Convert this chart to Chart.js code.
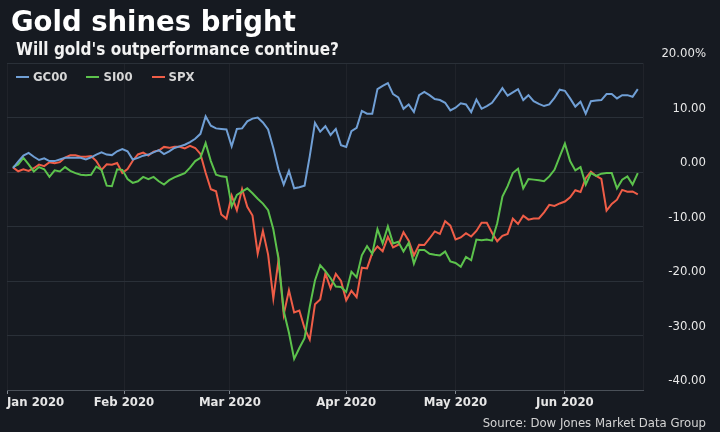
<!DOCTYPE html>
<html>
<head>
<meta charset="utf-8">
<title>Gold shines bright</title>
<script src="https://cdn.jsdelivr.net/npm/chart.js@4.4.1/dist/chart.umd.min.js"></script>
<style>
  html, body { margin: 0; padding: 0; background: #161a21; }
  #chart-box { position: relative; width: 720px; height: 432px; overflow: hidden; background: #161a21; }
  #my-chart { position: absolute; left: 0; top: 0; }
  .headline { position: absolute; left: 11px; top: 5px; margin: 0; line-height: 1;
    font: bold 27.5px 'DejaVu Sans', sans-serif; color: #ffffff; white-space: nowrap; }
  .subhead { position: absolute; left: 16px; top: 39px; margin: 0; line-height: 1;
    font: bold 17px 'DejaVu Sans Condensed', 'DejaVu Sans', sans-serif; color: #f2f2f2; white-space: nowrap; }
  .source { position: absolute; right: 14px; top: 415px; margin: 0; line-height: 1;
    font: 13px 'DejaVu Sans Condensed', 'DejaVu Sans', sans-serif; color: #d4d4d4; white-space: nowrap; }
  #legend { position: absolute; left: 16px; top: 69px; margin: 0; padding: 0; list-style: none;
    display: flex; font: bold 13px 'DejaVu Sans Condensed', 'DejaVu Sans', sans-serif; color: #d6d6d6; line-height: 15px; }
  #legend li { display: flex; align-items: center; margin-right: 19px; }
  #legend .swatch { display: inline-block; width: 13px; height: 2px; margin-right: 4px; }
</style>
</head>
<body>
<div id="chart-box">
  <canvas id="my-chart" width="720" height="432"></canvas>
  <h1 class="headline">Gold shines bright</h1>
  <h2 class="subhead">Will gold's outperformance continue?</h2>
  <ul id="legend"></ul>
  <p class="source">Source: Dow Jones Market Data Group</p>
</div>
<script>
'use strict';

// CATEGORIES - TRADING DAYS (futures also trade on Jan 20, Feb 17, May 25)
let tradingDays = [
  '2020-01-02','2020-01-03','2020-01-06','2020-01-07','2020-01-08','2020-01-09','2020-01-10','2020-01-13','2020-01-14','2020-01-15',
  '2020-01-16','2020-01-17','2020-01-20','2020-01-21','2020-01-22','2020-01-23','2020-01-24','2020-01-27','2020-01-28','2020-01-29','2020-01-30','2020-01-31',
  '2020-02-03','2020-02-04','2020-02-05','2020-02-06','2020-02-07','2020-02-10','2020-02-11','2020-02-12','2020-02-13','2020-02-14',
  '2020-02-17','2020-02-18','2020-02-19','2020-02-20','2020-02-21','2020-02-24','2020-02-25','2020-02-26','2020-02-27','2020-02-28',
  '2020-03-02','2020-03-03','2020-03-04','2020-03-05','2020-03-06','2020-03-09','2020-03-10','2020-03-11','2020-03-12','2020-03-13',
  '2020-03-16','2020-03-17','2020-03-18','2020-03-19','2020-03-20','2020-03-23','2020-03-24','2020-03-25','2020-03-26','2020-03-27','2020-03-30','2020-03-31',
  '2020-04-01','2020-04-02','2020-04-03','2020-04-06','2020-04-07','2020-04-08','2020-04-09','2020-04-13','2020-04-14','2020-04-15',
  '2020-04-16','2020-04-17','2020-04-20','2020-04-21','2020-04-22','2020-04-23','2020-04-24','2020-04-27','2020-04-28','2020-04-29','2020-04-30',
  '2020-05-01','2020-05-04','2020-05-05','2020-05-06','2020-05-07','2020-05-08','2020-05-11','2020-05-12','2020-05-13','2020-05-14',
  '2020-05-15','2020-05-18','2020-05-19','2020-05-20','2020-05-21','2020-05-22','2020-05-25','2020-05-26','2020-05-27','2020-05-28','2020-05-29',
  '2020-06-01','2020-06-02','2020-06-03','2020-06-04','2020-06-05','2020-06-08','2020-06-09','2020-06-10','2020-06-11','2020-06-12',
  '2020-06-15','2020-06-16','2020-06-17','2020-06-18','2020-06-19'
];

// TICK LABELS
let monthLabels = ['Jan 2020', 'Feb 2020', 'Mar 2020', 'Apr 2020', 'May 2020', 'Jun 2020'];
let yTickValues = [-40, -30, -20, -10, 0, 10, 20];
let yTickLabels = ['-40.00', '-30.00', '-20.00', '-10.00', '0.00', '10.00', '20.00%'];

// SERIES - % CHANGE SINCE START OF YEAR
let gc00 = [
  0.7, 1.9, 3.0, 3.5, 2.8, 2.2, 2.5, 2.0, 2.0, 2.3, 2.6, 2.6, 2.6, 2.6, 2.3, 2.7, 3.2, 3.6, 3.2, 3.1, 3.8, 4.2,
  3.8, 2.3, 2.6, 3.0, 3.2, 3.6, 4.0, 3.3, 3.8, 4.4, 4.7, 5.0, 5.5, 6.1, 7.0, 10.2, 8.5, 8.0, 7.9, 7.8,
  4.7, 7.9, 8.0, 9.3, 9.8, 10.0, 9.1, 7.8, 4.4, 0.4, -2.3, 0.2, -3.0, -2.8, -2.5, 2.9, 9.0, 7.4, 8.4, 6.8, 7.9, 4.9,
  4.6, 7.5, 8.1, 11.2, 10.7, 10.7, 15.2, 15.8, 16.3, 14.3, 13.7, 11.6, 12.4, 11.0, 14.1, 14.7, 14.1, 13.4, 13.2, 12.7, 11.3,
  11.8, 12.6, 12.4, 11.0, 13.3, 11.6, 12.1, 12.7, 14.0, 15.4, 14.0, 14.6, 15.2, 13.2, 14.1, 13.0, 12.5, 12.1, 12.4, 13.6, 15.1,
  14.9, 13.5, 12.0, 12.9, 10.7, 13.0, 13.1, 13.2, 14.3, 14.3, 13.5, 14.1, 14.1, 13.8, 15.2
];
let si00 = [
  0.9, 1.4, 2.6, 1.4, 0.1, 0.9, 0.5, -0.9, 0.3, 0.1, 0.9, 0.2, -0.2, -0.5, -0.6, -0.5, 1.0, 0.4, -2.5, -2.6, 0.5, 0.4,
  -1.3, -2.0, -1.7, -0.9, -1.3, -0.9, -1.7, -2.3, -1.5, -1.0, -0.6, -0.2, 0.8, 2.0, 2.6, 5.3, 2.0, -0.5, -0.8, -0.9,
  -6.3, -4.2, -3.6, -3.0, -3.9, -4.9, -5.8, -7.0, -10.5, -16.0, -25.5, -29.5, -34.3, -32.3, -30.5, -24.7, -19.9, -17.1, -18.2, -19.5, -21.0, -21.1,
  -22.0, -18.3, -19.3, -15.3, -13.6, -15.0, -10.5, -13.1, -10.0, -13.1, -12.8, -14.6, -13.0, -16.8, -14.3, -14.3, -15.0, -15.2, -15.3, -14.6, -16.4,
  -16.7, -17.4, -15.6, -16.2, -12.4, -12.5, -12.4, -12.6, -9.4, -4.5, -2.6, -0.2, 0.6, -3.0, -1.3, -1.4, -1.5, -1.7, -0.8, 0.4, 2.8,
  5.2, 2.0, 0.3, 0.9, -2.3, -0.2, -0.7, -0.3, -0.2, -0.2, -3.0, -1.4, -0.8, -2.3, -0.2
];
let spx = [
  0.84, 0.13, 0.48, 0.20, 0.69, 1.36, 1.07, 1.78, 1.62, 1.81, 2.66, 3.06, 3.06, 2.79, 2.82, 2.93, 2.00, 0.40, 1.41, 1.32, 1.64, -0.16,
  0.56, 2.07, 3.22, 3.56, 3.00, 3.75, 3.93, 4.60, 4.43, 4.62, 4.62, 4.32, 4.81, 4.41, 3.31, -0.15, -3.17, -3.54, -7.80, -8.56,
  -4.35, -7.04, -3.12, -6.40, -8.00, -14.99, -10.79, -15.15, -23.22, -16.09, -26.14, -21.72, -25.77, -25.42, -28.66, -30.75, -24.25, -23.38, -18.59, -21.34, -18.70, -20.00,
  -23.53, -21.79, -22.97, -17.55, -17.69, -14.88, -13.65, -14.52, -11.91, -13.85, -13.35, -11.03, -12.62, -15.30, -13.35, -13.40, -12.20, -10.90, -11.37, -9.02, -9.85,
  -12.38, -12.01, -11.22, -11.84, -10.82, -9.32, -9.30, -11.16, -12.71, -11.71, -11.36, -8.57, -9.53, -8.02, -8.74, -8.52, -8.52, -7.40, -6.02, -6.22, -5.77,
  -5.42, -4.64, -3.34, -3.67, -1.14, 0.05, -0.73, -1.26, -7.08, -5.86, -5.08, -3.28, -3.63, -3.57, -4.12
];

// DOM WINDOWS
let ctx = document.getElementById('my-chart');
let legendList = document.getElementById('legend');

// HELPER FUNCTIONS-UTILITIES
const X_MIN = -1.15;
const X_MAX = tradingDays.length;
const condensed = "'DejaVu Sans Condensed', 'DejaVu Sans', sans-serif";

// month ticks: first trading day of each month, pulled back over the weekend days
let monthTicks = [];
for (let i = 0; i < tradingDays.length; i++) {
  if (i === 0 || tradingDays[i].slice(5, 7) !== tradingDays[i - 1].slice(5, 7)) {
    let day = Number(tradingDays[i].slice(8, 10));
    monthTicks.push(i === 0 ? X_MIN : i - (day - 1) / 3);
  }
}

function toPoints(series) {
  return series.map((v, i) => ({ x: i, y: v }));
}

function lineDataset(label, series, color) {
  return {
    label: label,
    data: toPoints(series),
    borderColor: color,
    backgroundColor: color,
    borderWidth: 2,
    pointRadius: 0,
    pointHoverRadius: 0,
    tension: 0
  };
}

// legend built from the chart's own datasets
function renderLegend(chart) {
  chart.data.datasets.forEach(ds => {
    let item = document.createElement('li');
    let swatch = document.createElement('span');
    swatch.className = 'swatch';
    swatch.style.background = ds.borderColor;
    item.appendChild(swatch);
    item.appendChild(document.createTextNode(ds.label));
    legendList.appendChild(item);
  });
}

// HELPER FUNCTION TO RENDER CHART
function renderChart() {
  let chartObj = {
    type: 'line',
    data: {
      datasets: [
        lineDataset('GC00', gc00, '#709fd5'),
        lineDataset('SI00', si00, '#5cc24c'),
        lineDataset('SPX', spx, '#ef5d47')
      ]
    },
    options: {
      responsive: false,
      animation: false,
      events: [],
      layout: {
        padding: { left: 7, right: 14, top: 63, bottom: 22 }
      },
      plugins: {
        tooltip: { enabled: false },
        legend: { display: false }
      },
      scales: {
        x: {
          type: 'linear',
          min: X_MIN,
          max: X_MAX,
          afterBuildTicks(scale) {
            let ticks = monthTicks.map(v => ({ value: v }));
            ticks.push({ value: X_MAX });
            scale.ticks = ticks;
          },
          afterFit(scale) {
            scale.height = 20;
          },
          ticks: {
            autoSkip: false,
            maxRotation: 0,
            align: 'inner',
            padding: 1,
            color: '#e6e6e6',
            font: { family: condensed, size: 13, weight: 'bold' },
            callback: (value, index) => monthLabels[index] || ''
          },
          grid: {
            color: 'rgba(255,255,255,0.045)',
            tickLength: 4,
            tickColor: (c) => (c.index < monthLabels.length ? '#80868e' : 'transparent')
          },
          border: { display: true, color: '#4a5058', width: 1 }
        },
        y: {
          position: 'right',
          min: -40,
          max: 20,
          afterBuildTicks(scale) {
            scale.ticks = yTickValues.map(v => ({ value: v }));
          },
          afterFit(scale) {
            scale.width = 63;
          },
          ticks: {
            crossAlign: 'far',
            padding: 18,
            labelOffset: -9,
            color: '#e8e8e8',
            font: { family: condensed, size: 13 },
            callback: (value, index) => yTickLabels[index]
          },
          grid: { color: '#2a3038', drawTicks: false },
          border: { display: false }
        }
      }
    }
  };

  let chart = new Chart(ctx, chartObj);
  renderLegend(chart);
}

// EXECUTABLES
renderChart();
</script>
</body>
</html>
